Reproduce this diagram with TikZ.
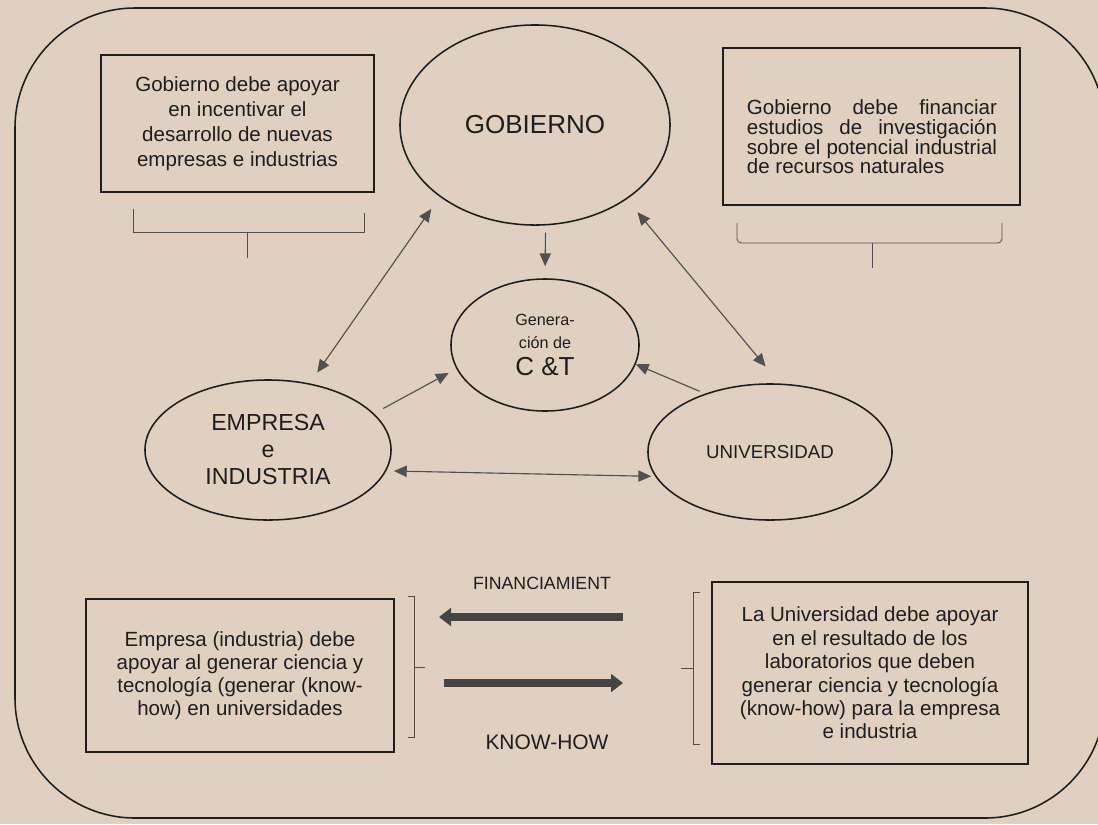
\documentclass[tikz,border=0pt]{standalone}
\usepackage{fontspec}
\setmainfont{Liberation Sans}
\usetikzlibrary{shapes.geometric, arrows.meta, positioning}
\definecolor{papercolor}{RGB}{224,208,191}
\definecolor{inkcolor}{RGB}{30,30,30}
\definecolor{arrowcolor}{RGB}{80,80,80}

\begin{document}
\begin{tikzpicture}[
    x=0.025cm, y=-0.025cm,
    >={Triangle[length=3.2mm, width=2.8mm]},
    actor/.style={draw=inkcolor, ellipse, line width=1.1pt, inner sep=0pt, text=inkcolor, align=center},
    note/.style={draw=inkcolor, line width=1.1pt, inner sep=0pt, text=inkcolor, align=center},
    link/.style={arrowcolor, line width=0.8pt, ->},
    both/.style={arrowcolor, line width=0.8pt, <->},
    flow/.style={arrowcolor!85!black, line width=5pt, -{Triangle[length=3mm, width=4.4mm]}},
    brace/.style={arrowcolor, line width=0.6pt}
]
    \useasboundingbox (0,0) rectangle (1098,824);
    \fill[papercolor] (0,0) rectangle (1098,824);
    \draw[inkcolor, line width=1.1pt, rounded corners=3cm] (15,8) rectangle (1105,818);

    % Actors
    \node[actor, minimum width=6.75cm, minimum height=5cm, font=\fontsize{18.5}{22}\selectfont] (gob) at (535,125) {GOBIERNO};
    \node[actor, minimum width=4.7cm, minimum height=3.3cm, font=\fontsize{11.5}{16.4}\selectfont] (ct) at (545,345)
        {Genera-\\ción de\\[3pt]{\fontsize{18.5}{16.4}\selectfont C \&T}};
    \node[actor, minimum width=6.15cm, minimum height=3.5cm, font=\fontsize{16.5}{19.2}\selectfont] (emp) at (268,450) {EMPRESA\\e\\INDUSTRIA};
    \node[actor, minimum width=6.1cm, minimum height=3.4cm, font=\fontsize{13.3}{16}\selectfont] (uni) at (770,452) {UNIVERSIDAD};

    % Notes
    \node[note, minimum width=6.825cm, minimum height=3.425cm, font=\fontsize{14.6}{17.8}\selectfont] (gobnote1) at (237.5,123.5)
        {Gobierno debe apoyar\\en incentivar el\\desarrollo de nuevas\\empresas e industrias};
    \node[note, minimum width=7.425cm, minimum height=3.925cm] (gobnote2) at (871.5,126.5) {};
    \node[text=inkcolor, inner sep=0pt, align=left, font=\fontsize{14.6}{14}\selectfont] (gobtext2) at (872,137)
        {\hbox to 6.25cm{Gobierno\hfill debe\hfill financiar}\\
         \hbox to 6.25cm{estudios\hfill de\hfill investigación}\\
         \hbox to 6.25cm{sobre\hfill el\hfill potencial\hfill industrial}\\
         de recursos naturales};
    \node[note, minimum width=7.7cm, minimum height=3.825cm, font=\fontsize{14.6}{16.4}\selectfont] (empnote) at (240,675.5)
        {Empresa (industria) debe\\apoyar al generar ciencia y\\tecnología (generar (know-\\how) en universidades};
    \node[note, minimum width=7.9cm, minimum height=4.55cm, font=\fontsize{14.6}{16.6}\selectfont] (uninote) at (870,673)
        {La Universidad debe apoyar\\en el resultado de los\\laboratorios que deben\\generar ciencia y tecnología\\(know-how) para la empresa\\e industria};

    % Links
    \draw[link, shorten <=0.18cm, shorten >=0.3cm] (gob.276) -- (ct.north);
    \draw[both, shorten <=0.33cm, shorten >=0.37cm] (emp.58) -- (gob.217);
    \draw[both, shorten <=0.42cm, shorten >=0.55cm] (gob.321) -- (uni.82);
    \draw[link, shorten <=0.26cm, shorten >=0.22cm] (emp.19) -- (ct.195);
    \draw[link, shorten <=0.15cm] (uni.138) -- (ct.348);
    \draw[both, shorten <=0.19cm, shorten >=0.1cm] (emp.350) -- (uni.192);

    % Brackets
    \draw[brace] (133,209) -- (133,232) -- (364,232) -- (364,213);
    \draw[brace] (247,232) -- (247,258);
    \draw[brace, rounded corners=3pt] (737,223) -- (737,243) -- (1002,243) -- (1002,223);
    \draw[brace] (872,243) -- (872,268);
    \draw[brace] (408,596) -- (414,596) -- (414,737) -- (408,737);
    \draw[brace] (414,667) -- (425,667);
    \draw[brace] (700,592) -- (693,592) -- (693,744) -- (700,744);
    \draw[brace] (693,668) -- (681,668);

    % Exchange
    \node[text=inkcolor, font=\fontsize{12.6}{14}\selectfont] (fintext) at (542,583) {FINANCIAMIENT};
    \node[text=inkcolor, font=\fontsize{14.9}{16}\selectfont] (khtext) at (547,742) {KNOW-HOW};
    \coordinate (finA) at (623,617);
    \coordinate (finB) at (439,617);
    \coordinate (khA) at (444,683);
    \coordinate (khB) at (623,683);
    \draw[flow] (finA) -- (finB);
    \draw[flow] (khA) -- (khB);
\end{tikzpicture}
\end{document}
